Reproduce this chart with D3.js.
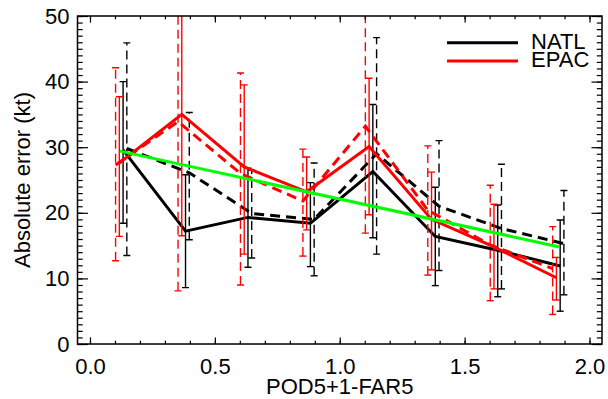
<!DOCTYPE html>
<html>
<head>
<meta charset="utf-8">
<script src="https://cdn.jsdelivr.net/npm/d3@7"></script>
<style>
  html, body { margin: 0; padding: 0; background: #fff; }
  svg { display: block; }
  text { font-family: "Liberation Sans", Arial, Helvetica, sans-serif; }
</style>
</head>
<body>
<svg id="chart" width="608" height="399"></svg>
<script>
// ---------------- data ----------------
const binCenters = [0.125, 0.375, 0.625, 0.875, 1.125, 1.375, 1.625, 1.875];

const natlSolid    = [29.6, 17.2, 19.3, 18.4, 26.3, 16.4, 14.3, 11.9];
const natlSolidHi  = [40.0, 25.8, 26.8, 24.6, 36.5, 23.9, 21.2, 18.9];
const natlSolidLo  = [18.4,  8.6, 11.7, 11.8, 16.2,  8.9,  7.2,  5.0];

const natlDashed   = [29.8, 26.1, 19.9, 19.0, 29.0, 21.0, 17.6, 15.3];
const natlDashedHi = [45.9, 35.3, 26.5, 27.6, 46.7, 31.0, 27.4, 23.4];
const natlDashedLo = [13.5, 15.9, 13.1, 10.4, 13.7, 11.2,  8.4,  7.5];

const epacSolid    = [27.6, 35.0, 27.0, 23.2, 30.1, 19.0, 14.8, 10.1];
const epacSolidHi  = [37.7, 52.0, 39.5, 28.5, 40.5, 26.2, 21.3, 13.2];
const epacSolidLo  = [16.4, 16.5, 13.7, 17.4, 19.7, 11.3,  8.4,  6.7];

const epacDashed   = [27.3, 33.9, 26.0, 21.8, 33.2, 20.4, 15.1, 11.5];
const epacDashedHi = [42.1, 56.0, 41.3, 29.7, 54.0, 30.2, 24.2, 17.9];
const epacDashedLo = [12.7,  8.1,  9.0, 13.4, 16.9, 10.5,  6.6,  4.5];

// x offsets (data units) of each series inside a bin
const seriesOffset = { epacDashed: -0.0225, epacSolid: -0.0075, natlSolid: 0.0075, natlDashed: 0.0225 };

// linear fit line (green)
const fitX = [0.12, 1.88];
const fitY = [29.4, 14.8];

const xMajorTicks = [0.0, 0.5, 1.0, 1.5, 2.0];
const xTickLabels = ["0.0", "0.5", "1.0", "1.5", "2.0"];
const yMajorTicks = [0, 10, 20, 30, 40, 50];
const yTickLabels = ["0", "10", "20", "30", "40", "50"];
const xMinorTicks = d3.range(0, 21).map(i => i / 10);
const yMinorTicks = d3.range(0, 51);

const legendNames = ["NATL", "EPAC"];
const legendColors = ["#000000", "#ff0000"];

const xTitle = "POD5+1-FAR5";
const yTitle = "Absolute error (kt)";

// ---------------- layout ----------------
const L = 77.5, R = 602, T = 16, B = 344;
const svg = d3.select("#chart");

const x = d3.scaleLinear().domain([-0.05, 2.05]).range([L, R]);
const y = d3.scaleLinear().domain([0, 50]).range([B, T]);

svg.append("defs").append("clipPath").attr("id", "plotclip")
  .append("rect").attr("x", L).attr("y", T).attr("width", R - L).attr("height", B - T);

const plot = svg.append("g").attr("clip-path", "url(#plotclip)");

const series = [
  { key: "natlSolid",  color: "#000000", dash: null,   v: natlSolid,  hi: natlSolidHi,  lo: natlSolidLo },
  { key: "natlDashed", color: "#000000", dash: "10,6", v: natlDashed, hi: natlDashedHi, lo: natlDashedLo },
  { key: "epacSolid",  color: "#ff0000", dash: null,   v: epacSolid,  hi: epacSolidHi,  lo: epacSolidLo },
  { key: "epacDashed", color: "#ff0000", dash: "10,6", v: epacDashed, hi: epacDashedHi, lo: epacDashedLo }
];

const capHalf = 3.5;
series.forEach(s => {
  const pts = binCenters.map((c, i) => ({ xv: c + seriesOffset[s.key], v: s.v[i], hi: s.hi[i], lo: s.lo[i] }));
  const eg = plot.append("g");
  pts.forEach(p => {
    const px = x(p.xv);
    eg.append("line").attr("x1", px).attr("x2", px).attr("y1", y(p.lo)).attr("y2", y(p.hi))
      .attr("stroke", s.color).attr("stroke-width", 1.4)
      .attr("stroke-dasharray", s.dash ? "9,5" : null);
    [p.lo, p.hi].forEach(e => {
      eg.append("line").attr("x1", px - capHalf).attr("x2", px + capHalf)
        .attr("y1", y(e)).attr("y2", y(e))
        .attr("stroke", s.color).attr("stroke-width", 1.4);
    });
  });
  plot.append("path").datum(pts)
    .attr("d", d3.line().x(d => x(d.xv)).y(d => y(d.v)))
    .attr("fill", "none").attr("stroke", s.color).attr("stroke-width", 3)
    .attr("stroke-linejoin", "miter")
    .attr("stroke-dasharray", s.dash);
});

plot.append("path").datum(fitX.map((xv, i) => ({ xv, v: fitY[i] })))
  .attr("d", d3.line().x(d => x(d.xv)).y(d => y(d.v)))
  .attr("fill", "none").attr("stroke", "#00ff00").attr("stroke-width", 3);

// ---------------- axes ----------------
const fontSize = 22;
function styleAxis(g) {
  g.select(".domain").remove();
  g.selectAll(".tick line").attr("stroke", "#000").attr("stroke-width", 1.2);
}
// bottom
svg.append("g").attr("transform", `translate(0,${B})`)
  .call(d3.axisBottom(x).tickValues(xMinorTicks).tickSizeInner(-3.3).tickSizeOuter(0).tickFormat(""))
  .call(styleAxis);
const xb = svg.append("g").attr("transform", `translate(0,${B})`)
  .call(d3.axisBottom(x).tickValues(xMajorTicks).tickSizeInner(-6.6).tickSizeOuter(0)
    .tickPadding(14).tickFormat((d, i) => xTickLabels[i]))
  .call(styleAxis);
xb.selectAll("text").attr("font-size", fontSize).attr("fill", "#000")
  .attr("font-family", "'Liberation Sans', Arial, sans-serif");
// top
svg.append("g").attr("transform", `translate(0,${T})`)
  .call(d3.axisTop(x).tickValues(xMinorTicks).tickSizeInner(-3.3).tickSizeOuter(0).tickFormat(""))
  .call(styleAxis);
svg.append("g").attr("transform", `translate(0,${T})`)
  .call(d3.axisTop(x).tickValues(xMajorTicks).tickSizeInner(-6.6).tickSizeOuter(0).tickFormat(""))
  .call(styleAxis);
// left
svg.append("g").attr("transform", `translate(${L},0)`)
  .call(d3.axisLeft(y).tickValues(yMinorTicks).tickSizeInner(-5.2).tickSizeOuter(0).tickFormat(""))
  .call(styleAxis);
const yl = svg.append("g").attr("transform", `translate(${L},0)`)
  .call(d3.axisLeft(y).tickValues(yMajorTicks).tickSizeInner(-10.5).tickSizeOuter(0)
    .tickPadding(8).tickFormat((d, i) => yTickLabels[i]))
  .call(styleAxis);
yl.selectAll("text").attr("font-size", fontSize).attr("fill", "#000")
  .attr("font-family", "'Liberation Sans', Arial, sans-serif");
// right
svg.append("g").attr("transform", `translate(${R},0)`)
  .call(d3.axisRight(y).tickValues(yMinorTicks).tickSizeInner(-5.2).tickSizeOuter(0).tickFormat(""))
  .call(styleAxis);
svg.append("g").attr("transform", `translate(${R},0)`)
  .call(d3.axisRight(y).tickValues(yMajorTicks).tickSizeInner(-10.5).tickSizeOuter(0).tickFormat(""))
  .call(styleAxis);

// frame
svg.append("rect").attr("x", L).attr("y", T).attr("width", R - L).attr("height", B - T)
  .attr("fill", "none").attr("stroke", "#000").attr("stroke-width", 1.5);

// titles
svg.append("text").attr("x", (L + R) / 2).attr("y", 394).attr("text-anchor", "middle")
  .attr("font-size", fontSize).text(xTitle);
svg.append("text").attr("transform", `translate(30,${(T + B) / 2}) rotate(-90)`)
  .attr("text-anchor", "middle").attr("font-size", fontSize).text(yTitle);

// legend
const lgY = [42.7, 61];
legendNames.forEach((name, i) => {
  svg.append("line").attr("x1", 447).attr("x2", 518).attr("y1", lgY[i]).attr("y2", lgY[i])
    .attr("stroke", legendColors[i]).attr("stroke-width", 3);
  svg.append("text").attr("x", 531).attr("y", lgY[i] + 6)
    .attr("font-size", fontSize).attr("fill", "#000").text(name);
});
</script>
</body>
</html>
